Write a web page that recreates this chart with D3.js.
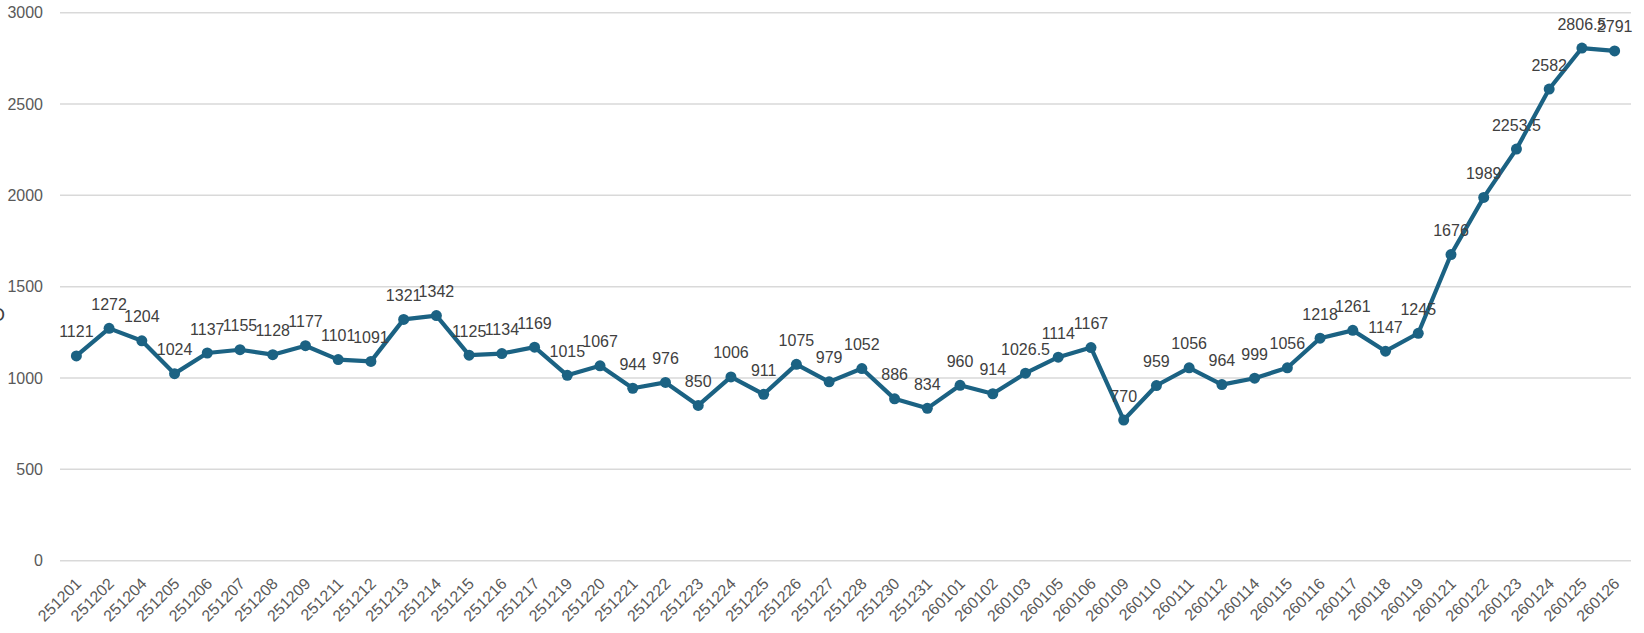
<!DOCTYPE html>
<html>
<head>
<meta charset="utf-8">
<script src="https://cdn.jsdelivr.net/npm/d3@7/dist/d3.min.js"></script>
<style>
  html, body { margin: 0; padding: 0; background: #fff; }
  svg { display: block; }
  text { font-family: "Liberation Sans", Arial, sans-serif; }
</style>
</head>
<body>
<svg id="chart" width="1644" height="633"></svg>
<script>
const categories = ["251201","251202","251204","251205","251206","251207","251208","251209","251211","251212",
  "251213","251214","251215","251216","251217","251219","251220","251221","251222","251223",
  "251224","251225","251226","251227","251228","251230","251231","260101","260102","260103",
  "260105","260106","260109","260110","260111","260112","260114","260115","260116","260117",
  "260118","260119","260121","260122","260123","260124","260125","260126"];
const values = [1121,1272,1204,1024,1137,1155,1128,1177,1101,1091,
  1321,1342,1125,1134,1169,1015,1067,944,976,850,
  1006,911,1075,979,1052,886,834,960,914,1026.5,
  1114,1167,770,959,1056,964,999,1056,1218,1261,
  1147,1245,1676,1989,2253.5,2582,2806.5,2791];
const yTicks = [0,500,1000,1500,2000,2500,3000];

const svg = d3.select("#chart");
const mLeft = 60, mRight = 1631, mTop = 12.7, mBottom = 560.7;

const x = d3.scaleBand().domain(categories).range([mLeft, mRight]).padding(0);
const y = d3.scaleLinear().domain([0, 3000]).range([mBottom, mTop]);
const cx = d => x(d) + x.bandwidth() / 2;

// gridlines
svg.append("g").selectAll("line").data(yTicks).join("line")
  .attr("x1", mLeft).attr("x2", mRight)
  .attr("y1", d => y(d)).attr("y2", d => y(d))
  .attr("stroke", "#d9d9d9").attr("stroke-width", 1.5);

// y axis labels
const yAxis = d3.axisLeft(y).tickValues(yTicks).tickFormat(d3.format("d")).tickSize(0).tickPadding(0);
const gy = svg.append("g").attr("transform", `translate(43,0)`).call(yAxis);
gy.select(".domain").remove();
gy.selectAll("text").attr("font-size", 16).attr("fill", "#595959")
  .attr("font-family", "Liberation Sans, Arial, sans-serif");

// x axis labels
const xAxis = d3.axisBottom(x).tickSize(0).tickPadding(0);
const gx = svg.append("g").attr("transform", `translate(0,${mBottom})`).call(xAxis);
gx.select(".domain").remove();
gx.selectAll("text")
  .attr("font-size", 16).attr("fill", "#595959")
  .attr("font-family", "Liberation Sans, Arial, sans-serif")
  .attr("text-anchor", "end")
  .attr("y", 0).attr("dy", 0)
  .attr("transform", "translate(6,24) rotate(-45)");

// clipped axis title fragment at left edge
svg.append("text").attr("x", 5).attr("y", 321).attr("text-anchor", "end")
  .attr("font-size", 19).attr("fill", "#404040").text("O");

const color = "#1b6283";
const line = d3.line().x((d, i) => cx(categories[i])).y(d => y(d));
svg.append("path").datum(values).attr("d", line)
  .attr("fill", "none").attr("stroke", color).attr("stroke-width", 4.2)
  .attr("stroke-linejoin", "round");

svg.append("g").selectAll("circle").data(values).join("circle")
  .attr("cx", (d, i) => cx(categories[i])).attr("cy", d => y(d))
  .attr("r", 5.5).attr("fill", color);

svg.append("g").selectAll("text").data(values).join("text")
  .attr("x", (d, i) => cx(categories[i])).attr("y", d => y(d) - 18.5)
  .attr("text-anchor", "middle").attr("font-size", 16).attr("fill", "#404040")
  .text(d => d);
</script>
</body>
</html>
